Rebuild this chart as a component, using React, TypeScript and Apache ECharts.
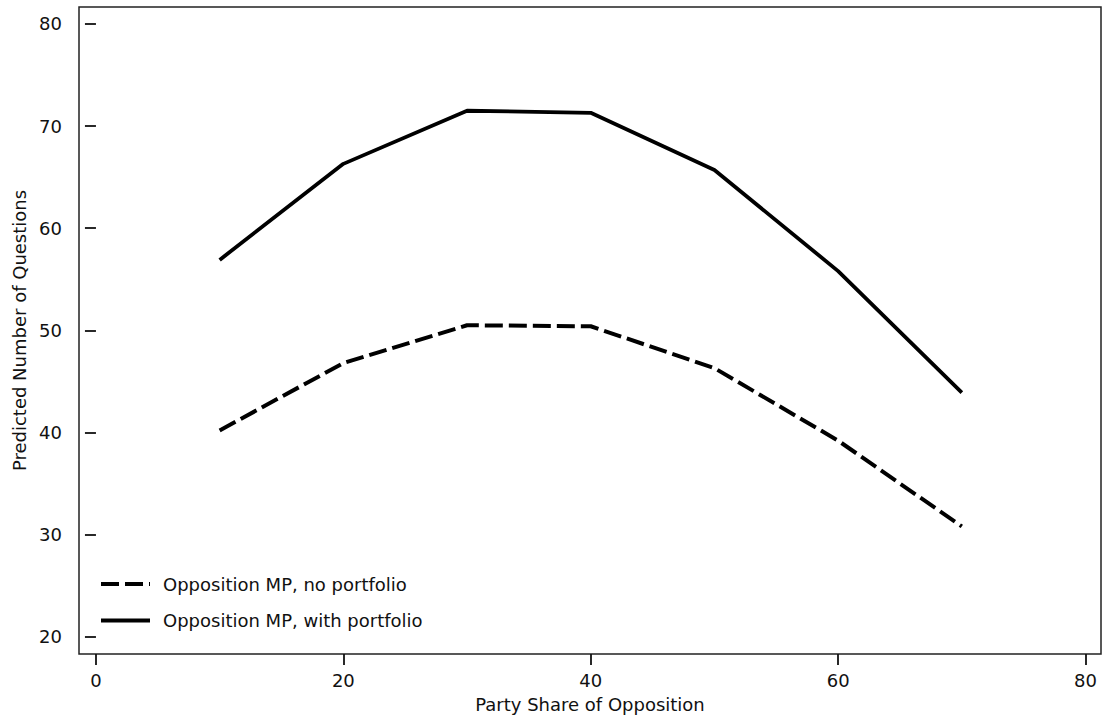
import React, { useEffect, useRef } from "react";
import * as echarts from "echarts";

const partyShare = [10, 20, 30, 40, 50, 60, 70];
const noPortfolio = [40.2, 46.8, 50.5, 50.4, 46.3, 39.2, 30.8];
const withPortfolio = [56.9, 66.3, 71.5, 71.3, 65.7, 55.8, 43.9];
const xTicks = [0, 20, 40, 60, 80];
const yTicks = [20, 30, 40, 50, 60, 70, 80];

const FONT = "DejaVu Sans";

export default function App() {
  const ref = useRef<HTMLDivElement>(null);
  useEffect(() => {
    if (!ref.current) return;
    const chart = echarts.init(ref.current, undefined, { renderer: "svg" });
    chart.setOption({
      animation: false,
      backgroundColor: "#fff",
      textStyle: { fontFamily: FONT },
      grid: {
        left: 79,
        right: 2,
        top: 7,
        bottom: 69,
        show: true,
        borderColor: "#222",
        borderWidth: 1.5,
        backgroundColor: "transparent",
      },
      legend: {
        show: true,
        orient: "vertical",
        left: 99,
        top: 575,
        itemWidth: 49,
        itemHeight: 18,
        itemGap: 18.5,
        padding: 0,
        itemStyle: { opacity: 0 },
        lineStyle: { width: 4 },
        textStyle: { fontFamily: FONT, fontSize: 18, color: "#111", padding: [0, 0, 0, 8] },
        data: ["Opposition MP, no portfolio", "Opposition MP, with portfolio"],
      },
      xAxis: {
        type: "value",
        min: -1.37,
        max: 81.25,
        name: "Party Share of Opposition",
        nameLocation: "middle",
        nameGap: 41,
        nameTextStyle: { fontFamily: FONT, fontSize: 18, color: "#111" },
        axisLine: { show: false },
        axisTick: { show: true, length: 11, lineStyle: { color: "#111", width: 1.8 }, customValues: xTicks },
        axisLabel: { fontFamily: FONT, fontSize: 18, color: "#111", margin: 17, customValues: xTicks },
        splitLine: { show: false },
      },
      yAxis: {
        type: "value",
        min: 18.31,
        max: 81.66,
        name: "Predicted Number of Questions",
        nameLocation: "middle",
        nameGap: 47,
        nameTextStyle: { fontFamily: FONT, fontSize: 18, color: "#111" },
        axisLine: { show: false },
        axisTick: { show: true, length: 11, lineStyle: { color: "#111", width: 1.8 }, customValues: yTicks },
        axisLabel: { fontFamily: FONT, fontSize: 18, color: "#111", margin: 17, customValues: yTicks },
        splitLine: { show: false },
      },
      series: [
        {
          name: "Opposition MP, no portfolio",
          type: "line",
          data: partyShare.map((x, i) => [x, noPortfolio[i]]),
          showSymbol: false,
          symbol: "none",
          lineStyle: { color: "#000", width: 4, type: [18, 6] },
          itemStyle: { color: "#000" },
        },
        {
          name: "Opposition MP, with portfolio",
          type: "line",
          data: partyShare.map((x, i) => [x, withPortfolio[i]]),
          showSymbol: false,
          symbol: "none",
          lineStyle: { color: "#000", width: 3.8, type: "solid" },
          itemStyle: { color: "#000" },
        },
      ],
    });
    return () => chart.dispose();
  }, []);
  return <div ref={ref} style={{ width: 1103, height: 723, position: "absolute", left: 0, top: 0 }} />;
}
